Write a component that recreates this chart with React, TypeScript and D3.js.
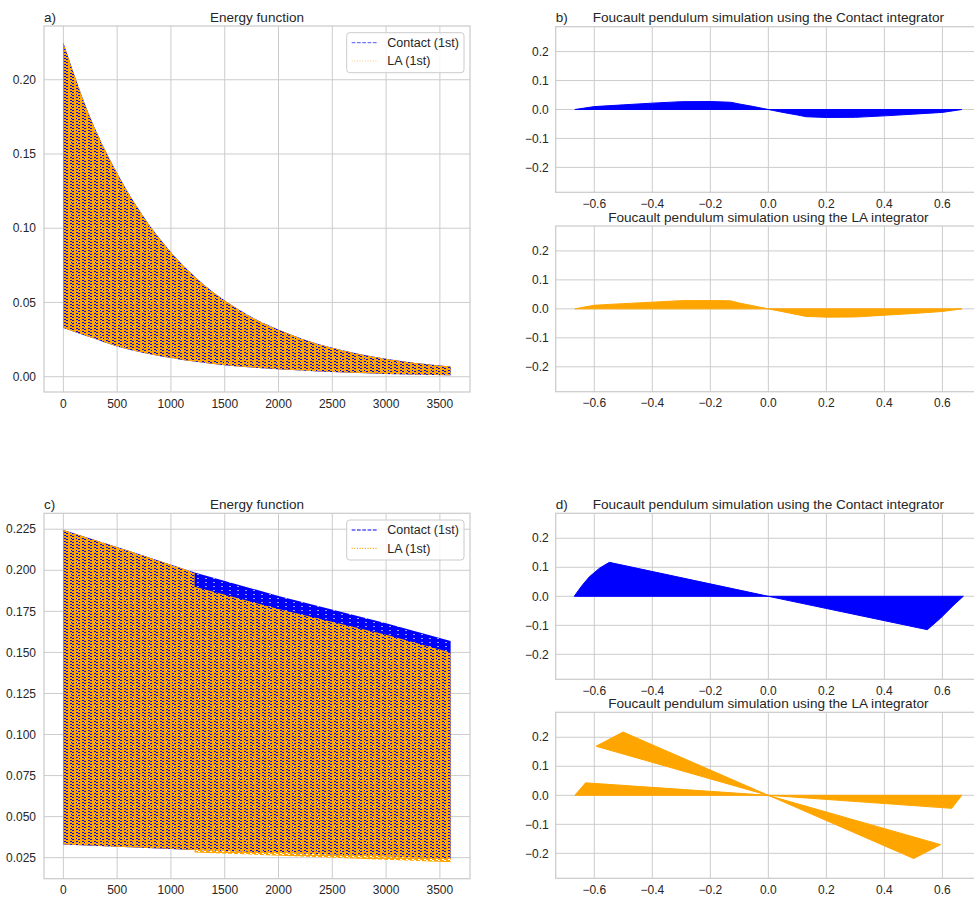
import React from "react";
import * as d3 from "d3";

// ---- panel a: energy function (both integrators lie on top of each other)
const energyTimesA = [0, 250, 500, 750, 1000, 1250, 1500, 1750, 2000, 2250, 2500, 3000, 3600];
const energyUpperA = [0.225, 0.1745, 0.137, 0.1072, 0.0838, 0.0655, 0.0513, 0.0402, 0.0316, 0.0248, 0.0195, 0.0121, 0.0069];
const energyLowerA = [0.0328, 0.0265, 0.0204, 0.016, 0.0126, 0.0099, 0.0078, 0.0062, 0.005, 0.004, 0.0031, 0.0019, 0.001];

// ---- panel c: energy function, the two integrators split at t ~ 1220
const contactUpperTimesC = [0, 600, 1220, 2000, 3000, 3600];
const contactUpperC = [0.2246, 0.212, 0.1986, 0.1844, 0.1678, 0.157];
const contactLowerTimesC = [0, 1220, 3600];
const contactLowerC = [0.0331, 0.0297, 0.0245];
const laUpperTimesC = [0, 600, 1220, 1220, 2000, 3000, 3600];
const laUpperC = [0.2246, 0.212, 0.1986, 0.19, 0.1765, 0.1607, 0.15];
const laLowerTimesC = [0, 1220, 1220, 3600];
const laLowerC = [0.0331, 0.0297, 0.0282, 0.0222];

// ---- panel b: pendulum trajectories (outline of the swept region)
const bContactX = [-0.667, -0.6, -0.5, -0.4, -0.3, -0.2, -0.13, -0.1, -0.05, 0, 0.05, 0.1, 0.13, 0.2, 0.3, 0.4, 0.5, 0.6, 0.667];
const bContactY = [0, 0.01, 0.016, 0.022, 0.027, 0.0276, 0.025, 0.019, 0.01, 0, -0.01, -0.019, -0.025, -0.0276, -0.027, -0.022, -0.016, -0.01, 0];
const bLaX = [-0.667, -0.6, -0.5, -0.4, -0.3, -0.2, -0.13, -0.1, -0.05, 0, 0.05, 0.1, 0.13, 0.2, 0.3, 0.4, 0.5, 0.6, 0.667];
const bLaY = [0, 0.0125, 0.018, 0.023, 0.0283, 0.0287, 0.0276, 0.02, 0.01, 0, -0.01, -0.02, -0.026, -0.0287, -0.028, -0.022, -0.016, -0.009, 0];

// ---- panel d
const dContactX = [-0.669, -0.655, -0.64, -0.617, -0.582, -0.548, 0, 0.548, 0.594, 0.64, 0.672];
const dContactY = [0, 0.02, 0.04, 0.067, 0.097, 0.117, 0, -0.115, -0.075, -0.029, 0];
const dLaFlatX = [-0.667, -0.63, 0, 0.632, 0.667];
const dLaFlatY = [0, 0.043, 0, -0.045, 0];
const dLaSteepX = [-0.594, -0.501, 0, 0.501, 0.594];
const dLaSteepY = [0.169, 0.218, 0, -0.218, -0.17];

// ticks
const energyTicksX = [0, 500, 1000, 1500, 2000, 2500, 3000, 3500];
const energyTicksYA = [0, 0.05, 0.1, 0.15, 0.2];
const energyTicksYC = [0.025, 0.05, 0.075, 0.1, 0.125, 0.15, 0.175, 0.2, 0.225];
const pendTicksX = [-0.6, -0.4, -0.2, 0, 0.2, 0.4, 0.6];
const pendTicksY = [-0.2, -0.1, 0, 0.1, 0.2];

const FONT = "'Liberation Sans', Arial, 'DejaVu Sans', sans-serif";
const TXT = "#262626";
const GRID = "#cccccc";
const BLUE = "#0000ff";
const ORANGE = "#ffa500";

const minus = (s: string) => s.replace("-", "\u2212");
const zip = (xs: number[], ys: number[]) => xs.map((v, i) => [v, ys[i]] as [number, number]);

function EnergyPanel({ id, label, top, bottom, yDomain, yTicks, yDigits, contact, la, curve, legendOpacity }: any) {
  const left = 44, right = 470;
  const x = d3.scaleLinear().domain([-180, 3780]).range([left, right]);
  const y = d3.scaleLinear().domain(yDomain).range([bottom, top]);
  const line = d3.line<[number, number]>().x((d) => x(d[0])).y((d) => y(d[1])).curve(curve);

  // band between an upper and lower envelope
  const band = (upper: [number, number][], lower: [number, number][]) =>
    line(upper) + (line(lower.slice().reverse()) as string).replace(/^M/, "L") + "Z";

  const lx = 346.7, ly = top + 6.7;
  return (
    <g>
      <clipPath id={id + "-clip"}>
        <rect x={left} y={top} width={right - left} height={bottom - top} />
      </clipPath>
      {energyTicksX.map((t) => (
        <line key={"gx" + t} x1={x(t)} x2={x(t)} y1={top} y2={bottom} stroke={GRID} strokeWidth={1} />
      ))}
      {yTicks.map((t: number) => (
        <line key={"gy" + t} x1={left} x2={right} y1={y(t)} y2={y(t)} stroke={GRID} strokeWidth={1} />
      ))}
      <g clipPath={`url(#${id}-clip)`}>
        <path d={band(contact[0], contact[1])} fill="url(#patContact)" />
        <path d={band(la[0], la[1])} fill="url(#patLA)" />
      </g>
      <rect x={left} y={top} width={right - left} height={bottom - top} fill="none" stroke={GRID} strokeWidth={1.25} />
      {energyTicksX.map((t) => (
        <text key={"tx" + t} x={x(t)} y={bottom + 15.7} textAnchor="middle" fontSize={12} fill={TXT}>
          {t}
        </text>
      ))}
      {yTicks.map((t: number) => (
        <text key={"ty" + t} x={left - 8} y={y(t)} dy="0.35em" textAnchor="end" fontSize={12} fill={TXT}>
          {t.toFixed(yDigits)}
        </text>
      ))}
      <text x={(left + right) / 2} y={top - 4.5} textAnchor="middle" fontSize={13.5} fill={TXT}>
        Energy function
      </text>
      <text x={left} y={top - 4.5} fontSize={13.5} fill={TXT}>
        {label}
      </text>
      {/* legend */}
      <rect x={lx} y={ly} width={117.3} height={40} rx={3} fill="#ffffff" fillOpacity={0.8} stroke={GRID} strokeWidth={1} />
      <line x1={lx + 5} x2={lx + 31.6} y1={ly + 10} y2={ly + 10} stroke={BLUE} strokeOpacity={legendOpacity} strokeWidth={1.2} strokeDasharray="3.7,1.6" />
      <line x1={lx + 5} x2={lx + 31.6} y1={ly + 28.3} y2={ly + 28.3} stroke={ORANGE} strokeOpacity={legendOpacity} strokeWidth={1.2} strokeDasharray="1,1.65" />
      <text x={lx + 40.6} y={ly + 10} dy="0.35em" fontSize={12.5} fill={TXT}>Contact (1st)</text>
      <text x={lx + 40.6} y={ly + 28.3} dy="0.35em" fontSize={12.5} fill={TXT}>LA (1st)</text>
    </g>
  );
}

function PendulumPanel({ id, label, title, top, bottom, shapes, color }: any) {
  const left = 555.7, right = 981;
  const x = d3.scaleLinear().domain([-0.733, 0.733]).range([left, right]);
  const y = d3.scaleLinear().domain([-0.286, 0.286]).range([bottom, top]);
  const line = d3.line<[number, number]>().x((d) => x(d[0])).y((d) => y(d[1]));
  return (
    <g>
      <clipPath id={id + "-clip"}>
        <rect x={left} y={top} width={right - left} height={bottom - top} />
      </clipPath>
      {pendTicksX.map((t) => (
        <line key={"gx" + t} x1={x(t)} x2={x(t)} y1={top} y2={bottom} stroke={GRID} strokeWidth={1} />
      ))}
      {pendTicksY.map((t) => (
        <line key={"gy" + t} x1={left} x2={right} y1={y(t)} y2={y(t)} stroke={GRID} strokeWidth={1} />
      ))}
      <g clipPath={`url(#${id}-clip)`}>
        {shapes.map((s: [number, number][], i: number) => (
          <path key={i} d={line(s) + "Z"} fill={color} stroke={color} strokeWidth={1} strokeLinejoin="round" />
        ))}
      </g>
      <rect x={left} y={top} width={right - left} height={bottom - top} fill="none" stroke={GRID} strokeWidth={1.25} />
      {pendTicksX.map((t) => (
        <text key={"tx" + t} x={x(t)} y={bottom + 15.4} textAnchor="middle" fontSize={12} fill={TXT}>
          {minus(t.toFixed(1))}
        </text>
      ))}
      {pendTicksY.map((t) => (
        <text key={"ty" + t} x={left - 7} y={y(t)} dy="0.35em" textAnchor="end" fontSize={12} fill={TXT}>
          {minus(t.toFixed(1))}
        </text>
      ))}
      <text x={(left + right) / 2} y={top - 4.3} textAnchor="middle" fontSize={13.6} fill={TXT}>
        {title}
      </text>
      {label && (
        <text x={left} y={top - 4.3} fontSize={13.5} fill={TXT}>
          {label}
        </text>
      )}
    </g>
  );
}

export default function App() {
  const contactA = [zip(energyTimesA, energyUpperA), zip(energyTimesA, energyLowerA)];
  const contactC = [zip(contactUpperTimesC, contactUpperC), zip(contactLowerTimesC, contactLowerC)];
  const laC = [zip(laUpperTimesC, laUpperC), zip(laLowerTimesC, laLowerC)];
  const titleContact = "Foucault pendulum simulation using the Contact integrator";
  const titleLA = "Foucault pendulum simulation using the LA integrator";

  return (
    <svg
      width={974}
      height={898}
      style={{ position: "absolute", left: 0, top: 0, background: "#ffffff", fontFamily: FONT }}
    >
      <defs>
        <pattern id="patContact" width={8} height={4} patternUnits="userSpaceOnUse">
          <rect width={8} height={4} fill={BLUE} />
          <rect x={5} y={2} width={2} height={1} fill="#ffffff" opacity={0.6} />
        </pattern>
        <pattern id="patLA" width={6} height={3} patternUnits="userSpaceOnUse">
          <rect x={0} y={0} width={6} height={1} fill={ORANGE} />
          <rect x={0} y={1} width={4} height={1} fill={ORANGE} />
          <rect x={2} y={2} width={4} height={1} fill={ORANGE} />
        </pattern>
      </defs>
      <rect width={974} height={898} fill="#ffffff" />

      <EnergyPanel
        id="a" label="a)" top={26} bottom={392}
        yDomain={[-0.0103, 0.2362]} yTicks={energyTicksYA} yDigits={2}
        contact={contactA} la={contactA} curve={d3.curveMonotoneX} legendOpacity={0.55}
      />
      <EnergyPanel
        id="c" label="c)" top={513.3} bottom={878.7}
        yDomain={[0.0122, 0.2347]} yTicks={energyTicksYC} yDigits={3}
        contact={contactC} la={laC} curve={d3.curveLinear} legendOpacity={1}
      />

      <PendulumPanel id="b1" label="b)" title={titleContact} top={26.7} bottom={192.3}
        shapes={[zip(bContactX, bContactY)]} color={BLUE} />
      <PendulumPanel id="b2" title={titleLA} top={226} bottom={391.7}
        shapes={[zip(bLaX, bLaY)]} color={ORANGE} />
      <PendulumPanel id="d1" label="d)" title={titleContact} top={513.3} bottom={679.3}
        shapes={[zip(dContactX, dContactY)]} color={BLUE} />
      <PendulumPanel id="d2" title={titleLA} top={712.3} bottom={878.3}
        shapes={[zip(dLaFlatX, dLaFlatY), zip(dLaSteepX, dLaSteepY)]} color={ORANGE} />
    </svg>
  );
}
